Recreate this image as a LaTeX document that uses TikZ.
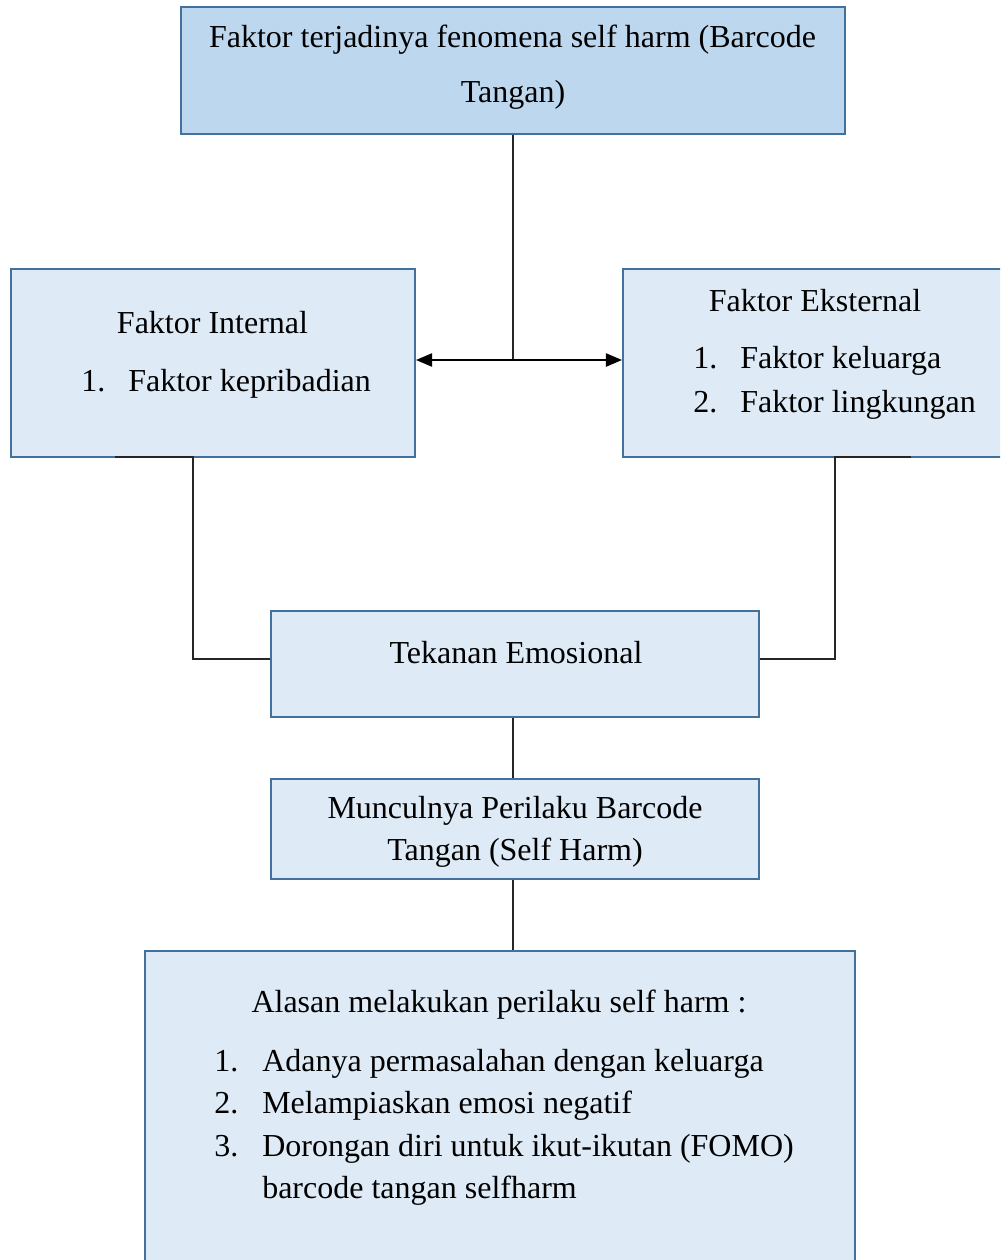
\documentclass[tikz,border=0pt]{standalone}
\usepackage{fontspec}
\setmainfont{Liberation Serif}
\usetikzlibrary{arrows.meta}
\definecolor{boxdark}{HTML}{BDD7EE}
\definecolor{boxlight}{HTML}{DEEAF6}
\definecolor{boxline}{HTML}{41719C}
\definecolor{conn}{HTML}{262626}
\tikzset{
  box/.style={draw=boxline, line width=1.6pt, rectangle, inner sep=0pt},
  txt/.style={inner sep=0pt, font=\fontsize{24}{28}\selectfont},
  link/.style={draw=conn, line width=1pt},
}
\begin{document}
\begin{tikzpicture}[x=0.75pt,y=-0.75pt]
\useasboundingbox (0,0) rectangle (1000,1260);
\clip (0,0) rectangle (1000,1260);
\fill[white] (0,0) rectangle (1000,1260);
% boxes
\node[box, fill=boxdark, minimum width=498pt, minimum height=95.25pt] (top) at (513,70.5) {};
\node[box, fill=boxlight, minimum width=303pt, minimum height=141pt] (int) at (213,363) {};
\node[box, fill=boxlight, minimum width=290.25pt, minimum height=141pt] (ext) at (816.5,363) {};
\node[box, fill=boxlight, minimum width=366pt, minimum height=79.5pt] (tek) at (515,664) {};
\node[box, fill=boxlight, minimum width=366pt, minimum height=75pt] (mun) at (515,829) {};
\node[box, fill=boxlight, minimum width=532.5pt, minimum height=243pt] (ala) at (500,1113) {};
% texts
\node[txt, anchor=base] (t1) at (512.5,47) {Faktor terjadinya fenomena self harm (Barcode};
\node[txt, anchor=base] (t2) at (513,102) {Tangan)};
\node[txt, anchor=base] (i1) at (212.5,333) {Faktor Internal};
\node[txt, anchor=base west] (i2n) at (81,391) {1.};
\node[txt, anchor=base west] (i2) at (128,391) {Faktor kepribadian};
\node[txt, anchor=base] (e1) at (815,311) {Faktor Eksternal};
\node[txt, anchor=base west] (e2n) at (693,368) {1.};
\node[txt, anchor=base west] (e2) at (740,368) {Faktor keluarga};
\node[txt, anchor=base west] (e3n) at (693,412) {2.};
\node[txt, anchor=base west] (e3) at (740,412) {Faktor lingkungan};
\node[txt, anchor=base] (k1) at (516,663) {Tekanan Emosional};
\node[txt, anchor=base] (m1) at (515,818) {Munculnya Perilaku Barcode};
\node[txt, anchor=base] (m2) at (515,860) {Tangan (Self Harm)};
\node[txt, anchor=base] (a0) at (499,1012) {Alasan melakukan perilaku self harm :};
\node[txt, anchor=base west] (a1n) at (214,1071) {1.};
\node[txt, anchor=base west] (a1) at (262,1071) {Adanya permasalahan dengan keluarga};
\node[txt, anchor=base west] (a2n) at (214,1113.5) {2.};
\node[txt, anchor=base west] (a2) at (262,1113.5) {Melampiaskan emosi negatif};
\node[txt, anchor=base west] (a3n) at (214,1156) {3.};
\node[txt, anchor=base west] (a3) at (262,1156) {Dorongan diri untuk ikut-ikutan (FOMO)};
\node[txt, anchor=base west] (a4) at (262,1198.5) {barcode tangan selfharm};
% connectors
\coordinate (j) at (513,360);
\draw[link] (top.south) -- (j);
\draw[link, draw=black, {Triangle[length=12pt,width=10pt]}-{Triangle[length=12pt,width=10pt]}] (int.east |- j) -- (ext.west |- j);
\coordinate (l0) at (115,457);
\coordinate (l1) at (193,457);
\coordinate (l2) at (193,659);
\draw[link] (l0) -- (l1) -- (l2) -- (tek.west |- l2);
\coordinate (r0) at (911,457);
\coordinate (r1) at (835,457);
\coordinate (r2) at (835,659);
\draw[link] (r0) -- (r1) -- (r2) -- (tek.east |- r2);
\draw[link] (tek.south -| j) -- (mun.north -| j);
\draw[link] (mun.south -| j) -- (ala.north -| j);
\end{tikzpicture}
\end{document}
